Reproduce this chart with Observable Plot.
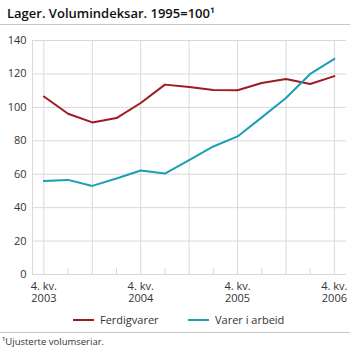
<!DOCTYPE html>
<html>
<head>
<meta charset="utf-8">
<script src="https://cdn.jsdelivr.net/npm/d3@7"></script>
<script src="https://cdn.jsdelivr.net/npm/@observablehq/plot@0.6"></script>
<style>
  html, body { margin: 0; padding: 0; background: #fff; }
  body { width: 350px; height: 351px; position: relative; overflow: hidden; font-family: "Open Sans", sans-serif; color: #222; }
  #title { position: absolute; left: 0; top: 0; width: 350px; height: 25px; border-bottom: 1px solid #c8c8c8; font-size: 13px; font-weight: 600; line-height: 26px; padding-left: 7px; box-sizing: border-box; color: #111; }
  #chart { position: absolute; left: 0; top: 26px; }
  #legend { position: absolute; left: 0; top: 308px; width: 350px; height: 24px; font-size: 11px; color: #333; }
  .item { position: absolute; top: 0; height: 24px; line-height: 24px; white-space: nowrap; }
  .sw { display: inline-block; width: 21px; height: 2px; vertical-align: middle; margin-right: 6px; position: relative; top: -1px; }
  #note { position: absolute; left: 0; top: 332px; width: 350px; height: 19px; border-top: 1px solid #c8c8c8; font-size: 9.5px; line-height: 17px; padding-left: 2px; box-sizing: border-box; color: #333; }
</style>
</head>
<body>
<div id="title"></div>
<div id="chart"></div>
<div id="legend"></div>
<div id="note"></div>
<script>
const titleText = "Lager. Volumindeksar. 1995=100¹";
const noteText = "¹Ujusterte volumseriar.";
const quarters = ["4. kv. 2003","1. kv. 2004","2. kv. 2004","3. kv. 2004","4. kv. 2004","1. kv. 2005","2. kv. 2005","3. kv. 2005","4. kv. 2005","1. kv. 2006","2. kv. 2006","3. kv. 2006","4. kv. 2006"];
const ferdigvarer = [106.5, 96.2, 91.0, 93.6, 102.6, 113.6, 112.2, 110.4, 110.2, 114.6, 117.0, 114.0, 118.7];
const varerIArbeid = [56.0, 56.6, 53.0, 57.4, 62.2, 60.4, 68.5, 76.6, 82.6, 94.0, 105.6, 120.0, 129.0];
const seriesNames = ["Ferdigvarer", "Varer i arbeid"];
const seriesColors = ["#9e1b22", "#1a9fb5"];
const yTicks = [0, 20, 40, 60, 80, 100, 120, 140];
const labeledQuarters = [0, 4, 8, 12];

document.getElementById("title").textContent = titleText;
document.getElementById("note").textContent = noteText;

const idx = quarters.map((q, i) => i);
const evenIdx = idx.filter(i => i % 2 === 0);
const oddIdx = idx.filter(i => i % 2 === 1);
const data = [];
[ferdigvarer, varerIArbeid].forEach((vals, s) => vals.forEach((v, i) => data.push({i, v, s: seriesNames[s]})));

const tickLabel = i => { const q = quarters[i]; const k = q.lastIndexOf(" "); return q.slice(0, k) + "\n" + q.slice(k + 1); };

const W = 350, H = 282, mt = 14, mb = 34, ml = 32, mr = 4;
const grid = "#d9d9d9";
const plot = Plot.plot({
  width: W, height: H,
  marginTop: mt, marginBottom: mb, marginLeft: ml, marginRight: mr,
  style: { fontFamily: "Open Sans, sans-serif", fontSize: "11px", color: "#333", background: "transparent" },
  x: { type: "linear", domain: [-0.47, 12.5] },
  y: { domain: [0, 140] },
  color: { domain: seriesNames, range: seriesColors },
  marks: [
    Plot.gridY(yTicks, { stroke: grid, strokeOpacity: 1 }),
    Plot.gridX(evenIdx, { stroke: grid, strokeOpacity: 1 }),
    Plot.tickX(oddIdx, { x: d => d, stroke: grid, strokeOpacity: 1, insetTop: H - mt - mb - 6 }),
    Plot.frame({ anchor: "left", stroke: grid }),
    Plot.lineY(data, { x: "i", y: "v", z: "s", stroke: "s", strokeWidth: 2 }),
    Plot.axisY(yTicks, { tickSize: 0, tickPadding: 6, fontSize: 11, fill: "#333", label: null }),
    Plot.axisX(labeledQuarters, { tickSize: 0, tickPadding: 6.5, tickFormat: tickLabel, fontSize: 11, fill: "#333", lineHeight: 1.1, label: null })
  ]
});
document.getElementById("chart").appendChild(plot);

const legend = document.getElementById("legend");
const legendX = [73, 188];
seriesNames.forEach((name, k) => {
  const it = document.createElement("div");
  it.className = "item";
  it.style.left = legendX[k] + "px";
  const sw = document.createElement("span");
  sw.className = "sw";
  sw.style.background = seriesColors[k];
  it.appendChild(sw);
  it.appendChild(document.createTextNode(name));
  legend.appendChild(it);
});
</script>
</body>
</html>
